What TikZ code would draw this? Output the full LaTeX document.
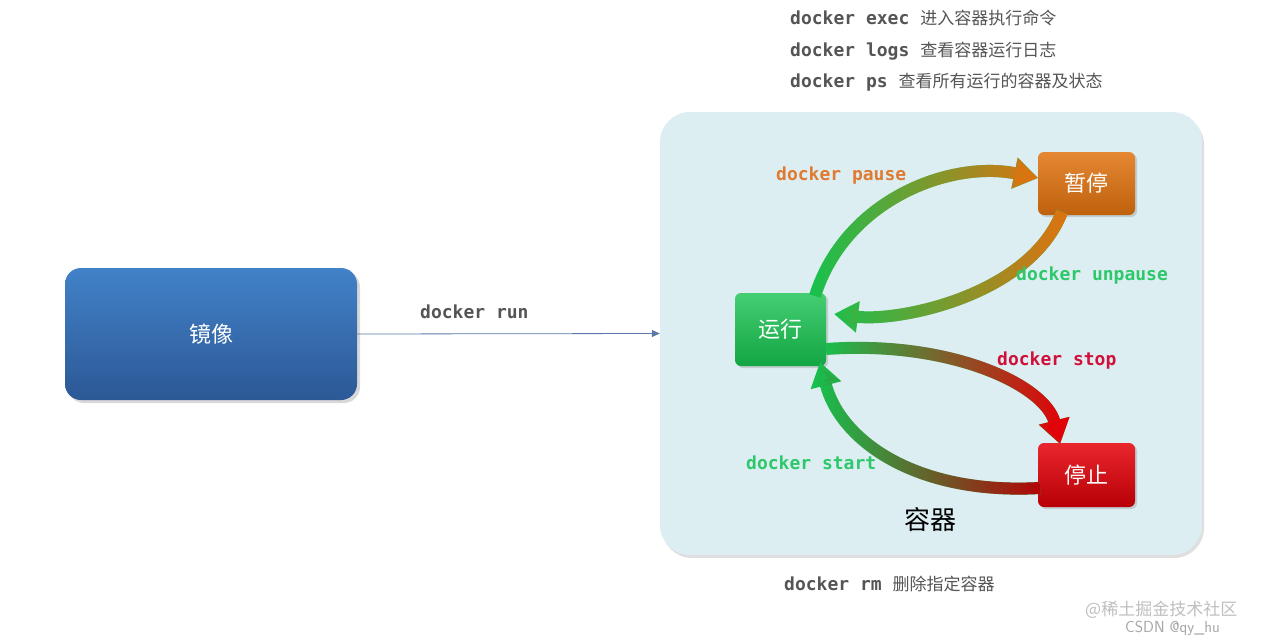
\documentclass[tikz,border=0pt]{standalone}
\usepackage{fontspec}
\setmonofont{DejaVu Sans Mono}
\newfontfamily\cjk{Noto Sans CJK SC}
\usetikzlibrary{arrows.meta,shadows,fadings}
\tikzfading[name=fr, left color=transparent!100, right color=transparent!0]
\definecolor{gtxt}{HTML}{555555}
\definecolor{cbg}{HTML}{DDEEF2}
\definecolor{gn}{HTML}{16C24F}
\definecolor{og}{HTML}{E0720F}
\definecolor{rd}{HTML}{E50008}
\definecolor{lgreen}{HTML}{2DC86A}
\definecolor{lorange}{HTML}{E07A30}
\definecolor{lred}{HTML}{D0103A}
\definecolor{btop}{HTML}{4282C8}
\definecolor{bbot}{HTML}{2C5896}
\definecolor{runarr}{HTML}{5A78A8}
\begin{document}
\begin{tikzpicture}[x=1pt,y=-1pt,
  cmd/.style={font=\fontsize{18}{20}\selectfont\ttfamily\bfseries, anchor=west, inner sep=0},
  top/.style={anchor=west, inner sep=0, text=gtxt},
  state/.style={rounded corners=6pt, text=white, font=\cjk\fontsize{22}{24}\selectfont, drop shadow={opacity=0.3,shadow xshift=2pt,shadow yshift=-2pt}},
  fat/.style={line width=12pt, -{Triangle[length=24pt,width=30pt]}}]
\useasboundingbox (0,0) rectangle (1264,643);
\fill[white] (0,0) rectangle (1264,643);
% top commands
\node[top] (t1) at (790,18) {\fontsize{18}{20}\selectfont\ttfamily\bfseries docker exec {\cjk\mdseries\fontsize{17}{20}\selectfont 进入容器执行命令}};
\node[top] (t2) at (790,51) {\fontsize{18}{20}\selectfont\ttfamily\bfseries docker logs {\cjk\mdseries\fontsize{17}{20}\selectfont 查看容器运行日志}};
\node[top] (t3) at (790,82) {\fontsize{18}{20}\selectfont\ttfamily\bfseries docker ps {\cjk\mdseries\fontsize{17}{20}\selectfont 查看所有运行的容器及状态}};
\node[top] (t4) at (784,584) {\fontsize{18}{20}\selectfont\ttfamily\bfseries docker rm {\cjk\mdseries\fontsize{17}{20}\selectfont 删除指定容器}};
% image box
\node[rounded corners=16pt, minimum width=292pt, minimum height=132pt, top color=btop, bottom color=bbot, drop shadow={opacity=0.3,shadow xshift=3pt,shadow yshift=-3pt}, text=white, font=\cjk\fontsize{22}{24}\selectfont] (img) at (211,334) {镜像};
% container
\node[rounded corners=30pt, minimum width=542pt, minimum height=443pt, fill=cbg, drop shadow={opacity=0.25,shadow xshift=2pt,shadow yshift=-3pt}] (ctr) at (931,333.5) {};
\draw[-{Triangle[length=8pt,width=7pt]}, runarr, line width=0.8pt] (img.east) -- (ctr.west);
\node[cmd, text=gtxt] (lrun) at (420,312) {docker run};
\node[font=\cjk\fontsize{26}{28}\selectfont] (clabel) at (930,520) {容器};
% states
\node[state, top color=gn!80!white, bottom color=gn!85!black, minimum width=91pt, minimum height=73pt] (run) at (780.5,329.5) {运行};
\node[state, top color=og!85!white, bottom color=og!85!black, minimum width=97pt, minimum height=63pt] (pau) at (1086.5,183.5) {暂停};
\node[state, top color=rd!85!white, bottom color=rd!80!black, minimum width=97pt, minimum height=64pt] (stp) at (1086.5,475) {停止};
% arrows
\coordinate (p0) at (815,296); \coordinate (p1) at (1038,178);
\draw[fat, gn] (p0) .. controls (845,200) and (950,160) .. (p1);
\draw[fat, og, path fading=fr] (p0) .. controls (845,200) and (950,160) .. (p1);
\coordinate (u0) at (1062,212); \coordinate (u1) at (834,314);
\draw[fat, gn] (u0) .. controls (1030,295) and (900,322) .. (u1);
\draw[fat, og, path fading=fr] (u0) .. controls (1030,295) and (900,322) .. (u1);
\coordinate (s0) at (826,349); \coordinate (s1) at (1060,444);
\draw[fat, gn] (s0) .. controls (950,340) and (1045,385) .. (s1);
\draw[fat, rd, path fading=fr] (s0) .. controls (950,340) and (1045,385) .. (s1);
\coordinate (r0) at (1040,488); \coordinate (r1) at (820,362);
\draw[fat, gn] (r0) .. controls (915,495) and (840,440) .. (r1);
\draw[fat, rd!80!black, path fading=fr] (r0) .. controls (915,495) and (840,440) .. (r1);
% labels
\node[cmd, text=lorange] (lp) at (776,176) {docker pause};
\node[cmd, text=lgreen] (lu) at (1016,276) {docker unpause};
\node[cmd, text=lred] (ls) at (997,361) {docker stop};
\node[cmd, text=lgreen] (lst) at (746,463) {docker start};
% watermark
\node[anchor=west, inner sep=0, text=gray!50, font=\cjk\fontsize{17}{18}\selectfont] (w1) at (1085,610) {@稀土掘金技术社区};
\node[anchor=west, inner sep=0, text=gray!70, font=\fontsize{16}{18}\selectfont\sffamily] (w2) at (1125,628) {CSDN @qy\_hu};
\end{tikzpicture}
\end{document}
